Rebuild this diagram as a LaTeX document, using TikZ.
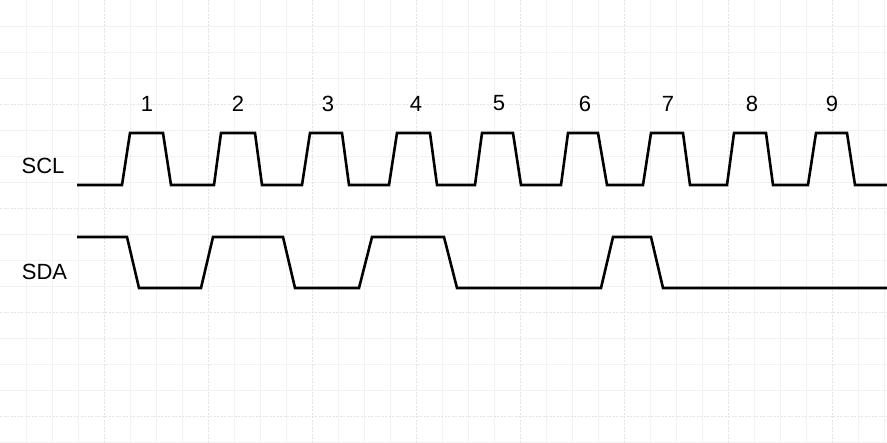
\documentclass[tikz,border=0pt]{standalone}
\usepackage{fontspec}
\setmainfont{Liberation Sans}
\begin{document}
\begin{tikzpicture}[x=1pt,y=-1pt,
  wave/.style={line width=2.6pt,line join=miter,black},
  minorgrid/.style={line width=0.6pt,black!5},
  majorgrid/.style={line width=0.7pt,black!11,dash pattern=on 2pt off 1.5pt},
  lbl/.style={font=\fontsize{22}{25}\selectfont,inner sep=0pt,anchor=center}]
\useasboundingbox (0,0) rectangle (887,443);
\fill[white] (0,0) rectangle (887,443);
% grid
\foreach \x in {26,52,78,130,156,182,234,260,286,338,364,390,442,468,494,546,572,598,650,676,702,754,780,806,858,884}
  \draw[minorgrid] (\x,0) -- (\x,443);
\foreach \y in {26,52,78,130,156,182,234,260,286,338,364,390,442}
  \draw[minorgrid] (0,\y) -- (887,\y);
\foreach \x in {104,208,312,416,520,624,728,832}
  \draw[majorgrid] (\x,0) -- (\x,443);
\foreach \y in {104,208,312,416}
  \draw[majorgrid] (0,\y) -- (887,\y);
% labels
\node[lbl] (scl) at (43,166) {SCL};
\node[lbl] (sda) at (44.5,271.5) {SDA};
\node[lbl] (n1) at (147,103.5) {1};
\node[lbl] (n2) at (238,103.5) {2};
\node[lbl] (n3) at (328,103.5) {3};
\node[lbl] (n4) at (416,103.5) {4};
\node[lbl] (n5) at (499,103.5) {5};
\node[lbl] (n6) at (585,103.5) {6};
\node[lbl] (n7) at (668,103.5) {7};
\node[lbl] (n8) at (752,103.5) {8};
\node[lbl] (n9) at (832,103.5) {9};
% SCL waveform
\draw[wave] (77,185)
  -- (122,185) -- (130,133) -- (163,133) -- (171,185)
  -- (214,185) -- (221,133) -- (255,133) -- (262,185)
  -- (302,185) -- (310,133) -- (342,133) -- (349,185)
  -- (389,185) -- (397,133) -- (430,133) -- (437,185)
  -- (475,185) -- (482,133) -- (513,133) -- (521,185)
  -- (561,185) -- (568,133) -- (598,133) -- (607,185)
  -- (643,185) -- (651,133) -- (683,133) -- (690,185)
  -- (727,185) -- (734,133) -- (766,133) -- (773,185)
  -- (808,185) -- (816,133) -- (847,133) -- (855,185)
  -- (887,185);
% SDA waveform
\draw[wave] (77,237)
  -- (127,237) -- (139,288) -- (201,288) -- (213,237)
  -- (283,237) -- (295,288) -- (359,288) -- (372,237)
  -- (444,237) -- (457,288) -- (601,288) -- (613,237)
  -- (651,237) -- (663,288) -- (887,288);
\end{tikzpicture}
\end{document}
